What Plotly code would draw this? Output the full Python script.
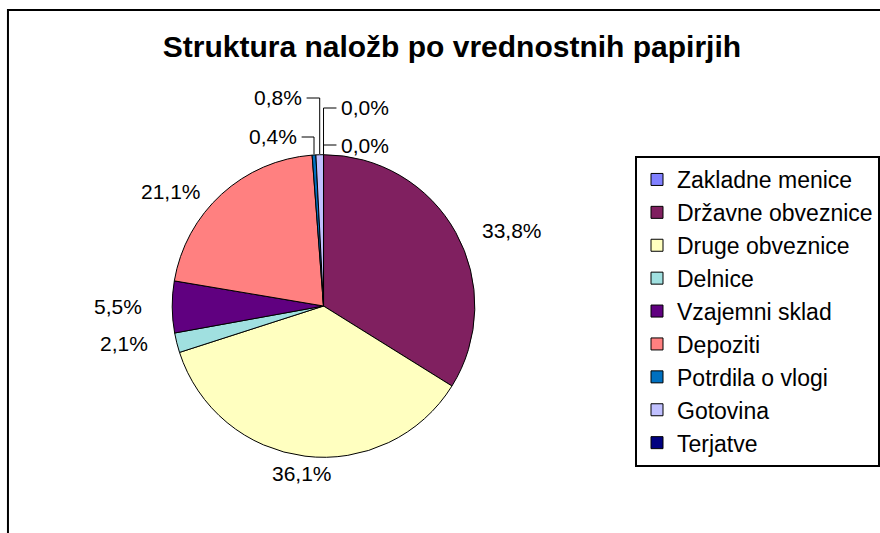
import plotly.graph_objects as go
import math

# ---- data ----
labels = ["Zakladne menice", "Državne obveznice", "Druge obveznice", "Delnice",
          "Vzajemni sklad", "Depoziti", "Potrdila o vlogi", "Gotovina", "Terjatve"]
values = [0.0, 33.8, 36.1, 2.1, 5.5, 21.1, 0.4, 0.8, 0.0]
colors = ["#8080FF", "#802060", "#FFFFC0", "#A0E0E0", "#600080",
          "#FF8080", "#0070C0", "#C0C0FF", "#000080"]
title_text = "Struktura naložb po vrednostnih papirjih"

# ---- layout constants (pixels) ----
W, H = 880, 533
CX, CY, R = 325, 306, 152
LBL_RX, LBL_RY = 180, 155
FONT = "Liberation Sans, Arial, sans-serif"
LBL_SIZE = 21

def px(x):
    return x / W

def py(y):
    return 1 - y / H

total = sum(values)

fig = go.Figure(go.Pie(
    labels=labels, values=values, sort=False, direction="clockwise", rotation=0,
    marker=dict(colors=colors, line=dict(color="black", width=1)),
    textinfo="none", hoverinfo="label+percent",
    domain=dict(x=[px(CX - R), px(CX + R)], y=[py(CY + R), py(CY - R)]),
))

def fmt(v):
    return f"{v:.1f}".replace(".", ",") + "%"

# small-slice label placement: index -> (side, label_y, leader_x)
small = {
    7: ("left", 98, 308),
    6: ("left", 137, 303),
    8: ("right", 108, 338),
    0: ("right", 145, 338),
}

annotations = []
shapes = []
cum = 0.0
for i, v in enumerate(values):
    mid = (cum + v / 2) / total * 2 * math.pi
    cum += v
    dx, dy = math.sin(mid), -math.cos(mid)
    lf = dict(family=FONT, size=LBL_SIZE, color="black")
    if i in small:
        side, ly, lx = small[i]
        ex, ey = CX + R * dx, CY + R * dy
        shapes.append(dict(type="path", xref="paper", yref="paper",
                           path=f"M {px(lx)},{py(ly)} L {px(ex)},{py(ly)} L {px(ex)},{py(ey)}",
                           line=dict(color="black", width=1)))
        if side == "left":
            annotations.append(dict(x=px(lx - 3), y=py(ly), xref="paper", yref="paper",
                                    text=fmt(v), showarrow=False, xanchor="right",
                                    yanchor="middle", font=lf))
        else:
            annotations.append(dict(x=px(lx + 3), y=py(ly), xref="paper", yref="paper",
                                    text=fmt(v), showarrow=False, xanchor="left",
                                    yanchor="middle", font=lf))
    else:
        x = CX + LBL_RX * dx
        y = CY + LBL_RY * dy
        xa = "left" if dx > 0.3 else ("right" if dx < -0.3 else "center")
        ya = "top" if dy > 0.8 else ("bottom" if dy < -0.8 else "middle")
        annotations.append(dict(x=px(x), y=py(y), xref="paper", yref="paper",
                                text=fmt(v), showarrow=False, xanchor=xa, yanchor=ya,
                                font=lf))

# outer chart frame
shapes.append(dict(type="rect", xref="paper", yref="paper",
                   x0=px(8), y0=py(560), x1=px(900), y1=py(10),
                   line=dict(color="black", width=2), layer="below"))

fig.update_layout(
    width=W, height=H, margin=dict(l=0, r=0, t=0, b=0),
    paper_bgcolor="white", plot_bgcolor="white",
    title=dict(text=title_text, x=px(454), y=py(46), xanchor="center", yanchor="middle",
               xref="paper", yref="paper",
               font=dict(family=FONT, size=30, color="black", weight="bold")),
    legend=dict(x=px(638), y=py(156), xanchor="left", yanchor="top",
                bordercolor="black", borderwidth=2, bgcolor="white",
                font=dict(family=FONT, size=23, color="black"),
                itemclick=False),
    annotations=annotations, shapes=shapes, showlegend=True,
)

fig.write_html("out.html")
